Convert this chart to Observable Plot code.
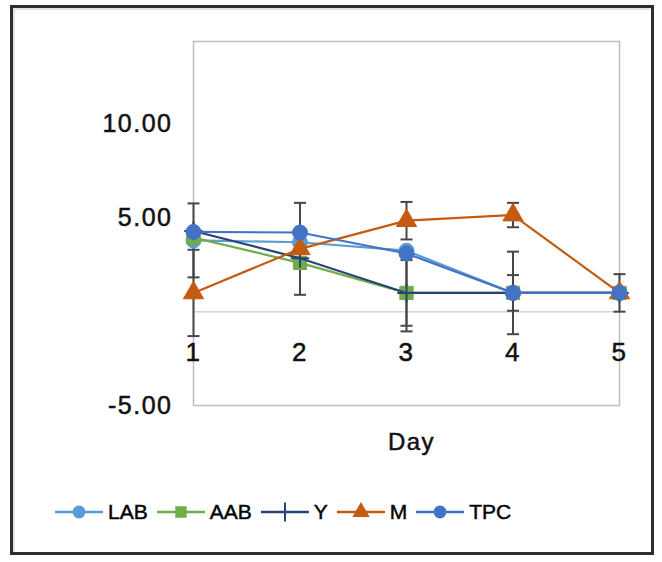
<!DOCTYPE html>
<html>
<head>
<meta charset="utf-8">
<script src="https://cdn.jsdelivr.net/npm/d3@7"></script>
<script src="https://cdn.jsdelivr.net/npm/@observablehq/plot@0.6"></script>
<style>
  html, body { margin: 0; padding: 0; background: #fff; }
  #wrap { position: relative; width: 662px; height: 562px; overflow: hidden; background: #fff; }
  #box { position: absolute; left: 10px; top: 5px; width: 644px; height: 550px; box-sizing: border-box;
         border: 3px solid #2e2e2e; box-shadow: inset 2px 2px 0 #e4e4e4; }
  #chart { position: absolute; left: 0; top: 0; }
  #chart svg text { stroke: #111; stroke-width: 0.5px; }
  #legend { position: absolute; left: 55px; top: 500px; display: flex; align-items: center;
            font-family: "Liberation Sans", Arial, sans-serif; font-size: 21px; color: #000;
            -webkit-text-stroke: 0.5px #111; }
  .item { display: flex; align-items: center; margin-right: 9px; }
  .item span { margin-left: 5px; }
</style>
</head>
<body>
<div id="wrap">
  <div id="box"></div>
  <div id="chart"></div>
  <div id="legend"></div>
</div>
<script>
// ---- data ----
const days = [1, 2, 3, 4, 5];
const seriesNames = ["LAB", "AAB", "Y", "M", "TPC"];
const LAB = [3.8, 3.7, 3.25, 1.0, 1.0];
const AAB = [3.95, 2.6, 1.0, 1.0, 1.0];
const Y   = [4.3, 2.85, 1.0, 1.0, 1.0];
const M   = [1.0, 3.35, 4.85, 5.15, 1.0];
const TPC = [4.25, 4.22, 3.1, 1.0, 1.0];
// error bar half-lengths (0 = none drawn)
const LAB_err = [1.97, 0, 0, 2.2, 0];
const AAB_err = [0, 0, 1.75, 0.95, 0];
const Y_err   = [0, 0, 2.05, 0, 0];
const M_err   = [2.3, 2.45, 1.0, 0.65, 1.0];
const TPC_err = [0, 0, 0, 0, 0];
const yTicks = [-5, 5, 10];
const yDomain = [-5, 14.4];
const colors  = ["#5B9BD5", "#70AD47", "#264478", "#C55A11", "#4472C4"];
const symbols = ["circle", "square", "plus", "triangle", "circle"];

const values = [LAB, AAB, Y, M, TPC];
const errs = [LAB_err, AAB_err, Y_err, M_err, TPC_err];

const data = seriesNames.flatMap((s, k) => days.map((d, i) => ({
  series: s, day: d, value: values[k][i], err: errs[k][i]
})));
const errData = data.filter(d => d.err > 0);

// horizontal cap symbol for error bars
const capSymbol = {
  draw(ctx, size) {
    const r = Math.sqrt(size / Math.PI);
    ctx.moveTo(-r, 0); ctx.lineTo(r, 0);
  }
};

const seriesMarks = seriesNames.flatMap((s, k) => {
  const sd = data.filter(d => d.series === s);
  const sym = symbols[k];
  const dotOpts = sym === "plus"
    ? {x: "day", y: "value", symbol: "plus", stroke: colors[k], strokeWidth: 2, r: 6}
    : {x: "day", y: "value", symbol: sym, fill: colors[k], stroke: colors[k], strokeWidth: 1, r: sym === "circle" ? 7.5 : 7.5};
  return [
    Plot.line(sd, {x: "day", y: "value", stroke: colors[k], strokeWidth: 2.2}),
    Plot.dot(sd, dotOpts)
  ];
});

const fmt2 = d => d.toFixed(2);

const chart = Plot.plot({
  width: 662,
  height: 480,
  marginLeft: 193,
  marginRight: 43,
  marginTop: 41,
  marginBottom: 75,
  style: {fontFamily: "Liberation Sans, Arial, sans-serif", color: "#000", background: "transparent"},
  x: {domain: [1, 5]},
  y: {domain: yDomain},
  marks: [
    Plot.frame({stroke: "#bdbdbd", strokeWidth: 1.5}),
    Plot.ruleY([0], {stroke: "#d4d4d4", strokeWidth: 1.5}),
    Plot.axisY({ticks: yTicks, tickFormat: fmt2, tickSize: 0, tickPadding: 21,
                fontSize: 25, label: null, fill: "#111"}),
    Plot.axisX({ticks: days, tickFormat: d => String(d), tickSize: 0, tickPadding: 0, dy: -63,
                fontSize: 26, label: null, fill: "#111"}),
    Plot.text(["Day"], {frameAnchor: "bottom", lineAnchor: "middle", dy: 37, dx: 5, fontSize: 24, fill: "#111"}),
    Plot.ruleX(errData, {x: "day", y1: d => d.value - d.err, y2: d => d.value + d.err, stroke: "#474747", strokeWidth: 2}),
    Plot.dot(errData, {x: "day", y: d => d.value - d.err, symbol: capSymbol, r: 6, stroke: "#474747", strokeWidth: 2}),
    Plot.dot(errData, {x: "day", y: d => d.value + d.err, symbol: capSymbol, r: 6, stroke: "#474747", strokeWidth: 2}),
    ...seriesMarks
  ]
});
chart.style.letterSpacing = "1.5px";
document.getElementById("chart").appendChild(chart);

// ---- legend ----
const legend = document.getElementById("legend");
seriesNames.forEach((s, k) => {
  const item = document.createElement("div");
  item.className = "item";
  const svg = d3.create("svg").attr("width", 48).attr("height", 24);
  svg.append("line").attr("x1", 0).attr("x2", 48).attr("y1", 12).attr("y2", 12)
     .attr("stroke", colors[k]).attr("stroke-width", 2.5);
  const symType = {circle: d3.symbolCircle, square: d3.symbolSquare, plus: d3.symbolPlus, triangle: d3.symbolTriangle}[symbols[k]];
  const p = svg.append("path").attr("transform", "translate(24,12)")
     .attr("d", d3.symbol(symType, symbols[k] === "plus" ? 120 : 130)());
  if (symbols[k] === "plus") p.attr("fill", "none").attr("stroke", colors[k]).attr("stroke-width", 2);
  else p.attr("fill", colors[k]);
  item.appendChild(svg.node());
  const t = document.createElement("span");
  t.textContent = s;
  item.appendChild(t);
  legend.appendChild(item);
});
</script>
</body>
</html>
